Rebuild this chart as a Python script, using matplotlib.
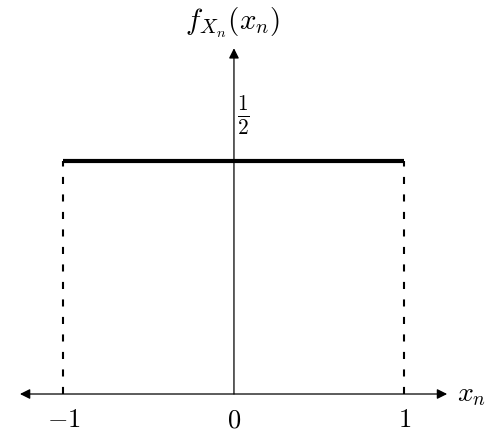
import matplotlib
matplotlib.use("Agg")
import matplotlib.pyplot as plt

plt.rcParams['mathtext.fontset'] = 'cm'

support = [-1, 1]
density = 0.5
xticks = [-1, 0, 1]
xtick_labels = [r'$-1$', r'$0$', r'$1$']
xlim_arrow = [-1.255, 1.25]
ytop_arrow = 0.742

fig = plt.figure(figsize=(4.97, 4.40), dpi=100)
ax = fig.add_axes([0, 0, 1, 1])
ax.set_xlim(-1.372, 1.5425)
ax.set_ylim(-0.0987, 0.8455)
ax.axis('off')

# x axis (double arrow)
ax.annotate('', xy=(xlim_arrow[1], 0), xytext=(xlim_arrow[0], 0),
            arrowprops=dict(arrowstyle='<|-|>', lw=0.9, color='black',
                            mutation_scale=15, shrinkA=0, shrinkB=0))
# y axis
ax.annotate('', xy=(0, ytop_arrow), xytext=(0, 0),
            arrowprops=dict(arrowstyle='-|>', lw=0.9, color='black',
                            mutation_scale=15, shrinkA=0, shrinkB=0))

# density line
ax.plot(support, [density, density], color='black', lw=3.0, solid_capstyle='butt')
for s in support:
    ax.plot([s, s], [0, density], color='black', lw=1.5, ls=(0, (3.4, 5.0)))

# tick labels
for t, lab in zip(xticks, xtick_labels):
    ax.text(t, -0.056, lab, ha='center', va='center', fontsize=19)

ax.text(0.02, 0.598, r'$\frac{1}{2}$', ha='left', va='center', fontsize=22)
ax.text(1.31, 0.0, r'$x_n$', ha='left', va='center', fontsize=20)
ax.text(-0.005, 0.797, r'$f_{X_n}(x_n)$', ha='center', va='center', fontsize=21)

fig.savefig('out.png', dpi=100)
